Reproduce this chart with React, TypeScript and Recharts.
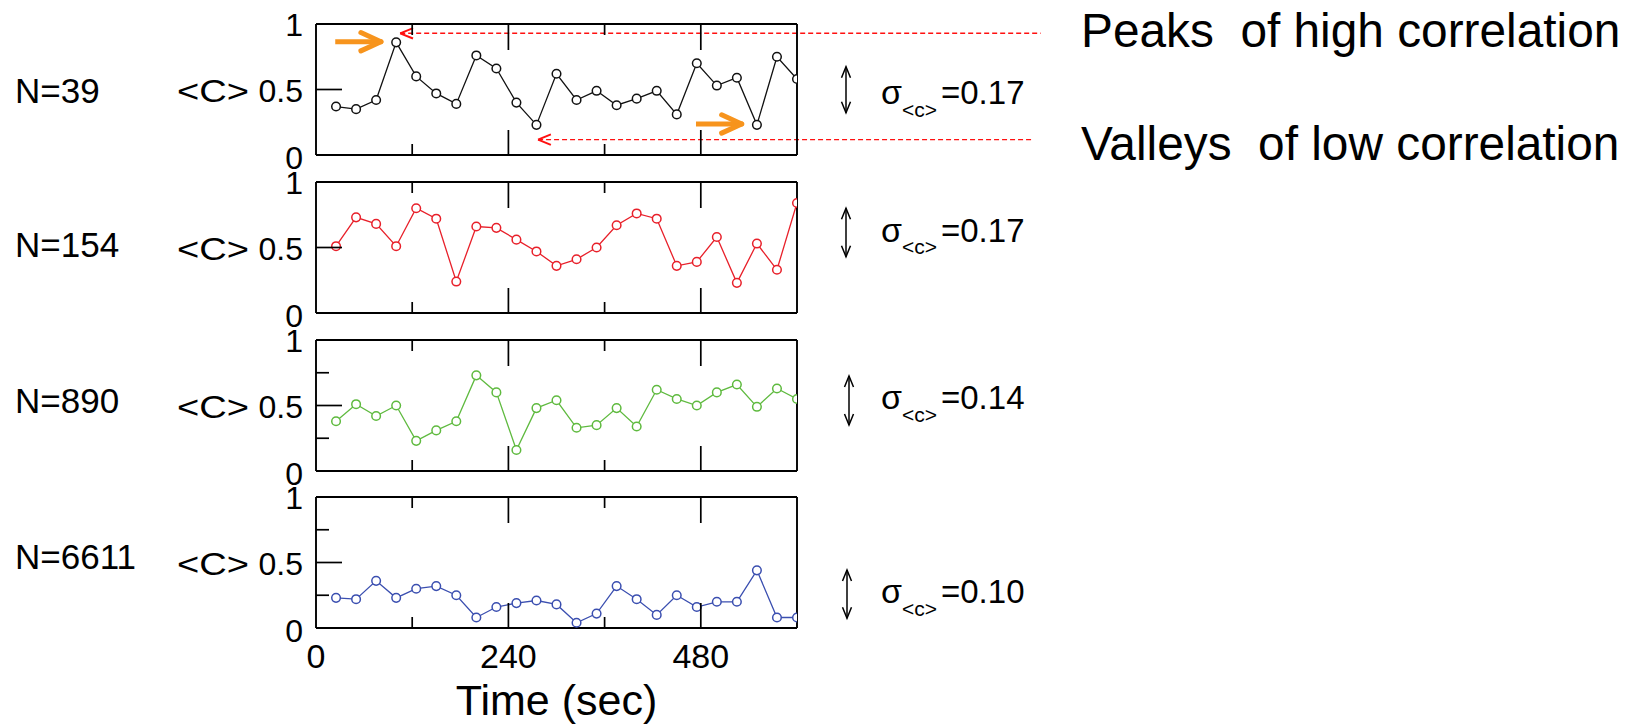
import React from 'react';
import { LineChart, Line, XAxis, YAxis, ReferenceLine } from 'recharts';

const FONT = '"Liberation Sans", Arial, Helvetica, sans-serif';

// time axis (sec)
const times = [25, 50, 75, 100, 125, 150, 175, 200, 225, 250, 275, 300, 325, 350, 375, 400, 425, 450, 475, 500, 525, 550, 575, 600];
const xTicks = [0, 120, 240, 360, 480, 600];
const xLabelTicks = [0, 240, 480];
const yTicks = [0, 0.25, 0.5, 0.75, 1];

// <C> series per system size
const corrN39 = [0.37, 0.35, 0.42, 0.86, 0.60, 0.47, 0.39, 0.76, 0.66, 0.40, 0.23, 0.62, 0.42, 0.49, 0.38, 0.43, 0.49, 0.31, 0.70, 0.53, 0.59, 0.23, 0.75, 0.58];
const corrN154 = [0.51, 0.73, 0.68, 0.51, 0.80, 0.72, 0.24, 0.66, 0.65, 0.56, 0.47, 0.36, 0.41, 0.50, 0.67, 0.76, 0.72, 0.36, 0.39, 0.58, 0.23, 0.53, 0.33, 0.84];
const corrN890 = [0.38, 0.51, 0.42, 0.50, 0.23, 0.31, 0.38, 0.73, 0.60, 0.16, 0.48, 0.54, 0.33, 0.35, 0.48, 0.34, 0.62, 0.55, 0.50, 0.60, 0.66, 0.49, 0.63, 0.55];
const corrN6611 = [0.23, 0.22, 0.36, 0.23, 0.30, 0.32, 0.25, 0.08, 0.16, 0.19, 0.21, 0.18, 0.04, 0.11, 0.32, 0.22, 0.10, 0.25, 0.16, 0.20, 0.20, 0.44, 0.08, 0.08];

const sizeLabels = ['N=39', 'N=154', 'N=890', 'N=6611'];
const sigmaValues = ['0.17', '0.17', '0.14', '0.10'];
const colors = ['#111111', '#e8202a', '#5fba3f', '#3b4fb0'];
const seriesList = [corrN39, corrN154, corrN890, corrN6611];
const minorY = [false, false, true, true];

// layout
const PLOT_LEFT = 316;
const PLOT_RIGHT = 797;
const PLOT_H = 131;
const boxTops = [24, 182, 340, 497];
const W = 1626;
const AX = 1; // thickness reserved for each axis

const makeBottomTick = (showLabels: boolean) => (props: any) => {
  const { x, y, payload } = props;
  const v = payload.value;
  const len = v === 240 || v === 480 ? 25 : v === 120 || v === 360 ? 11 : 0;
  return (
    <g>
      {len > 0 && <line x1={x} x2={x} y1={y} y2={y - len} stroke="#000" strokeWidth={1.7} />}
      {showLabels && xLabelTicks.includes(v) && (
        <text x={x} y={y + 40} textAnchor="middle" fontSize={34} fontFamily={FONT} fill="#000">
          {v}
        </text>
      )}
    </g>
  );
};

const topTick = (props: any) => {
  const { x, y, payload } = props;
  const v = payload.value;
  const len = v === 240 || v === 480 ? 26 : v === 120 || v === 360 ? 11 : 0;
  return <g>{len > 0 && <line x1={x} x2={x} y1={y} y2={y + len} stroke="#000" strokeWidth={1.7} />}</g>;
};

const makeLeftTick = (minor: boolean) => (props: any) => {
  const { x, y, payload } = props;
  const v = payload.value;
  const len = v === 0.5 ? 26 : (v === 0.25 || v === 0.75) && minor ? 13 : 0;
  const label = v === 0 ? '0' : v === 1 ? '1' : v === 0.5 ? '0.5' : null;
  const dy = v === 0 ? 13.5 : 12;
  return (
    <g>
      {len > 0 && <line x1={x} x2={x + len} y1={y} y2={y} stroke="#000" strokeWidth={1.7} />}
      {label && (
        <text x={x - 13} y={y + dy} textAnchor="end" fontSize={32} fontFamily={FONT} fill="#000">
          {label}
        </text>
      )}
      {v === 0.5 && (
        <text
          x={x - 139}
          y={y + dy}
          fontSize={32}
          fontFamily={FONT}
          fill="#000"
          textLength={72}
          lengthAdjust="spacingAndGlyphs"
        >
          {'<C>'}
        </text>
      )}
    </g>
  );
};

const makeRightTick = (minor: boolean) => (props: any) => {
  const { x, y, payload } = props;
  const v = payload.value;
  const len = v === 0.5 ? 26 : (v === 0.25 || v === 0.75) && minor ? 13 : 0;
  return <g>{len > 0 && <line x1={x} x2={x - len} y1={y} y2={y} stroke="#000" strokeWidth={1.7} />}</g>;
};

const axisLineStyle = { stroke: '#000', strokeWidth: 1.9 };

function Panel({ idx }: { idx: number }) {
  const isLast = idx === 3;
  const bottom = isLast ? 96 : 24;
  const data = times.map((t, i) => ({ t, c: seriesList[idx][i] }));
  const color = colors[idx];
  return (
    <div style={{ position: 'absolute', left: 0, top: boxTops[idx] - 24 }}>
      <LineChart
        width={W}
        height={24 + PLOT_H + bottom}
        data={data}
        margin={{ top: 24 - AX, right: W - PLOT_RIGHT - AX, bottom: bottom - AX, left: PLOT_LEFT - AX }}
      >
        <XAxis
          dataKey="t"
          type="number"
          domain={[0, 600]}
          ticks={xTicks}
          interval={0}
          height={AX}
          tickSize={0}
          tickMargin={0}
          tickLine={false}
          axisLine={axisLineStyle}
          tick={makeBottomTick(isLast)}
          allowDataOverflow
        />
        <XAxis
          xAxisId="top"
          orientation="top"
          dataKey="t"
          type="number"
          domain={[0, 600]}
          ticks={xTicks}
          interval={0}
          height={AX}
          tickSize={0}
          tickMargin={0}
          tickLine={false}
          axisLine={axisLineStyle}
          tick={topTick}
        />
        <YAxis
          type="number"
          domain={[0, 1]}
          ticks={yTicks}
          interval={0}
          width={AX}
          tickSize={0}
          tickMargin={0}
          tickLine={false}
          axisLine={axisLineStyle}
          tick={makeLeftTick(minorY[idx])}
        />
        <YAxis
          yAxisId="right"
          orientation="right"
          type="number"
          domain={[0, 1]}
          ticks={yTicks}
          interval={0}
          width={AX}
          tickSize={0}
          tickMargin={0}
          tickLine={false}
          axisLine={axisLineStyle}
          tick={makeRightTick(minorY[idx])}
        />
        {idx === 0 && (
          <>
            {/* red dashed guide lines with open arrowheads */}
            <ReferenceLine segment={[{ x: 105, y: 0.929 }, { x: 904, y: 0.929 }]} stroke="#ff1010" strokeWidth={1.4} strokeDasharray="5 3" ifOverflow="visible" />
            <ReferenceLine segment={[{ x: 105, y: 0.929 }, { x: 121, y: 0.969 }]} stroke="#ff1010" strokeWidth={2} ifOverflow="visible" />
            <ReferenceLine segment={[{ x: 105, y: 0.929 }, { x: 121, y: 0.889 }]} stroke="#ff1010" strokeWidth={2} ifOverflow="visible" />
            <ReferenceLine segment={[{ x: 277, y: 0.117 }, { x: 893, y: 0.117 }]} stroke="#ff1010" strokeWidth={1.4} strokeDasharray="5 3" ifOverflow="visible" />
            <ReferenceLine segment={[{ x: 277, y: 0.117 }, { x: 293, y: 0.157 }]} stroke="#ff1010" strokeWidth={2} ifOverflow="visible" />
            <ReferenceLine segment={[{ x: 277, y: 0.117 }, { x: 293, y: 0.077 }]} stroke="#ff1010" strokeWidth={2} ifOverflow="visible" />
            {/* orange pointer arrows */}
            <ReferenceLine segment={[{ x: 24, y: 0.865 }, { x: 80, y: 0.865 }]} stroke="#f7941d" strokeWidth={5} ifOverflow="visible" />
            <ReferenceLine segment={[{ x: 56, y: 0.935 }, { x: 81, y: 0.865 }]} stroke="#f7941d" strokeWidth={5} strokeLinecap="round" ifOverflow="visible" />
            <ReferenceLine segment={[{ x: 56, y: 0.795 }, { x: 81, y: 0.865 }]} stroke="#f7941d" strokeWidth={5} strokeLinecap="round" ifOverflow="visible" />
            <ReferenceLine segment={[{ x: 474, y: 0.237 }, { x: 530, y: 0.237 }]} stroke="#f7941d" strokeWidth={5} ifOverflow="visible" />
            <ReferenceLine segment={[{ x: 506, y: 0.307 }, { x: 531, y: 0.237 }]} stroke="#f7941d" strokeWidth={5} strokeLinecap="round" ifOverflow="visible" />
            <ReferenceLine segment={[{ x: 506, y: 0.167 }, { x: 531, y: 0.237 }]} stroke="#f7941d" strokeWidth={5} strokeLinecap="round" ifOverflow="visible" />
          </>
        )}
        <Line
          type="linear"
          dataKey="c"
          stroke={color}
          strokeWidth={1.3}
          dot={{ r: 4.3, fill: '#fff', stroke: color, strokeWidth: 1.5 }}
          activeDot={false}
          isAnimationActive={false}
        />
      </LineChart>
    </div>
  );
}

const nBaselines = [102.7, 257, 413, 568.5];
const sigmaBaselines = [104, 241.7, 409.3, 603.3];
const sigmaArrows = [
  { x: 846, y1: 66.7, y2: 112.7 },
  { x: 846, y1: 208.3, y2: 256.7 },
  { x: 849, y1: 376, y2: 425 },
  { x: 847, y1: 570, y2: 618.3 },
];

function Overlay() {
  return (
    <svg width={W} height={724} style={{ position: 'absolute', left: 0, top: 0, pointerEvents: 'none' }}>
      {sizeLabels.map((s, i) => (
        <text key={s} x={15} y={nBaselines[i]} fontSize={35} fontFamily={FONT} fill="#000">
          {s}
        </text>
      ))}
      {sigmaArrows.map((a, i) => (
        <g key={i} stroke="#000" strokeWidth={1.5} fill="none">
          <line x1={a.x} x2={a.x} y1={a.y1} y2={a.y2} />
          <polyline points={`${a.x - 4.5},${a.y1 + 11} ${a.x},${a.y1} ${a.x + 4.5},${a.y1 + 11}`} />
          <polyline points={`${a.x - 4.5},${a.y2 - 11} ${a.x},${a.y2} ${a.x + 4.5},${a.y2 - 11}`} />
        </g>
      ))}
      {sigmaValues.map((v, i) => (
        <g key={'s' + i} fontFamily={FONT} fill="#000">
          <text x={881} y={sigmaBaselines[i]} fontSize={34}>σ</text>
          <text x={902} y={sigmaBaselines[i] + 12.5} fontSize={21}>{'<c>'}</text>
          <text x={941} y={sigmaBaselines[i]} fontSize={33}>{'=' + v}</text>
        </g>
      ))}
      <text x={556.5} y={715} textAnchor="middle" fontSize={43} fontFamily={FONT} fill="#000">
        Time (sec)
      </text>
      <text x={1081} y={46.7} fontSize={47.8} fontFamily={FONT} fill="#000" style={{ whiteSpace: 'pre' }}>
        {'Peaks  of high correlation'}
      </text>
      <text x={1081} y={160} fontSize={47.8} fontFamily={FONT} fill="#000" style={{ whiteSpace: 'pre' }}>
        {'Valleys  of low correlation'}
      </text>
    </svg>
  );
}

export default function App() {
  return (
    <div style={{ position: 'absolute', left: 0, top: 0, width: W, height: 724, background: '#fff', overflow: 'hidden' }}>
      {[0, 1, 2, 3].map((i) => (
        <Panel key={i} idx={i} />
      ))}
      <Overlay />
    </div>
  );
}
